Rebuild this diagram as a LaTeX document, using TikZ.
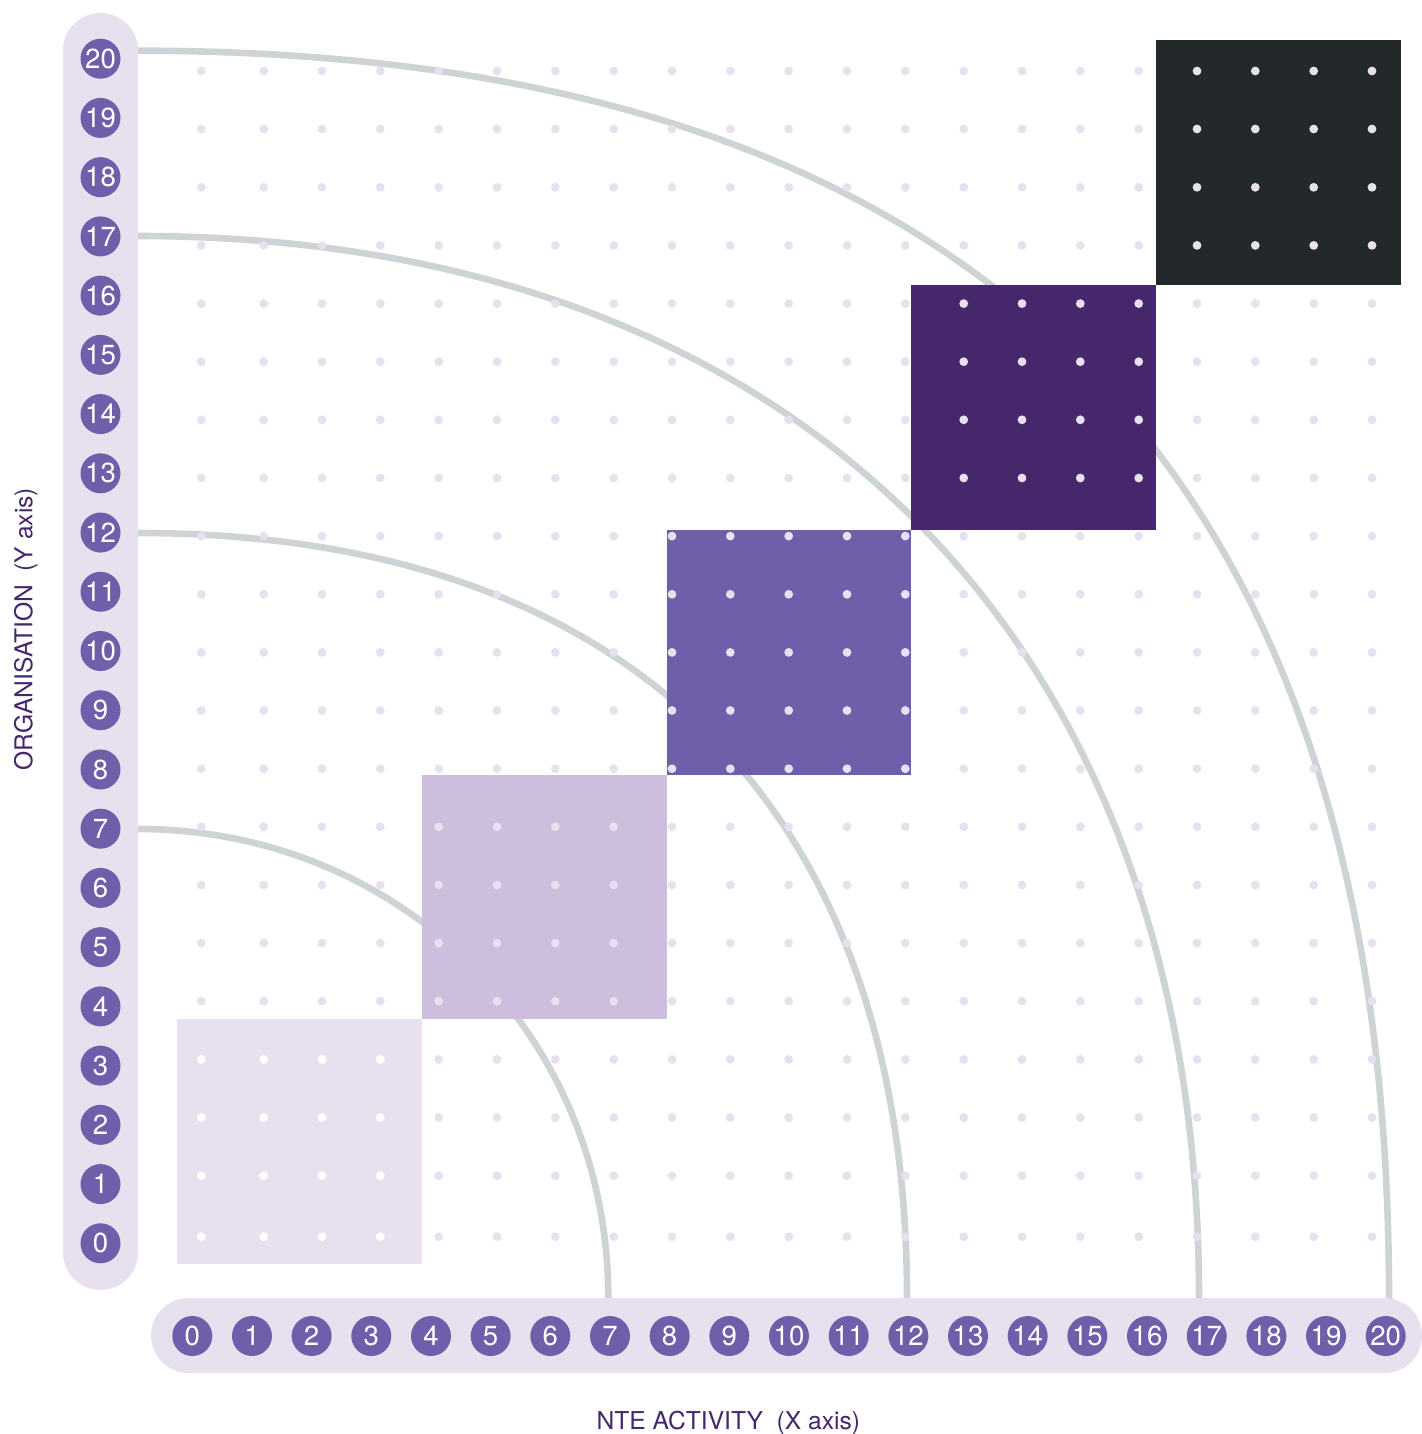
\documentclass[tikz,border=0pt]{standalone}
\usepackage{fontspec}
\setmainfont{TeX Gyre Heros}
\definecolor{barbg}{HTML}{E6E0EF}
\definecolor{numbg}{HTML}{6F5EA9}
\definecolor{sqA}{HTML}{E6E0EF}
\definecolor{sqB}{HTML}{CDBEDE}
\definecolor{sqC}{HTML}{6F5EA9}
\definecolor{sqD}{HTML}{46276C}
\definecolor{sqE}{HTML}{23282B}
\definecolor{arcgray}{HTML}{CED4D6}
\definecolor{dotcol}{HTML}{E6E0EF}
\definecolor{titlecol}{HTML}{46276C}
\begin{document}
\begin{tikzpicture}[x=0.5pt,y=-0.5pt,
  numdot/.style={circle,fill=numbg,minimum size=20pt,inner sep=0pt,text=white,
    font=\fontsize{13.8}{15}\selectfont},
  arcline/.style={draw=arcgray,line width=3.3pt},
  axistitle/.style={text=titlecol,font=\fontsize{12.3}{14}\selectfont,inner sep=0pt}]
\useasboundingbox (0,0) rectangle (1422,1434);
\fill[white] (0,0) rectangle (1422,1434);

% arcs (drawn first, hidden by squares)
\coordinate (a7s) at (120,829);   \coordinate (a7b) at (138,829);
\coordinate (a7e) at (608.3,1298); \coordinate (a7f) at (608.3,1315);
\coordinate (a12s) at (120,533);  \coordinate (a12b) at (138,533);
\coordinate (a12e) at (907,1298); \coordinate (a12f) at (907,1315);
\coordinate (a17s) at (120,236);  \coordinate (a17b) at (138,236);
\coordinate (a17e) at (1199,1298); \coordinate (a17f) at (1199,1315);
\coordinate (a20s) at (120,50.7); \coordinate (a20b) at (138,50.7);
\coordinate (a20e) at (1389,1298); \coordinate (a20f) at (1389.5,1315);
\draw[arcline] (a7s) -- (a7b) .. controls (401.4,829) and (608.3,1035.4) .. (a7e) -- (a7f);
\draw[arcline] (a12s) -- (a12b) .. controls (630.2,533) and (907,808.4) .. (a12e) -- (a12f);
\draw[arcline] (a17s) -- (a17b) .. controls (795.8,236) and (1199,639.6) .. (a17e) -- (a17f);
\draw[arcline] (a20s) -- (a20b) .. controls (976.2,50.7) and (1389,462.3) .. (a20e) -- (a20f);

% squares
\fill[sqA] (177,1019) rectangle (422,1264);
\fill[sqB] (422,775) rectangle (667,1019);
\fill[sqC] (667,530) rectangle (911,775);
\fill[sqD] (911,285) rectangle (1156,530);
\fill[sqE] (1156,40) rectangle (1401,285);

% dot grid
\foreach \x in {201.3,263.7,322,380.3,438.7,497,555.3,613.7,672,730.3,788.7,847,905.3,963.7,1022,1080.3,1138.7,1197,1255.3,1313.7,1372}
  \foreach \y in {71,129,187.3,245.4,303.6,361.7,419.8,478,536.1,594.3,652.4,710.5,768.7,826.8,885,943.1,1001.2,1059.4,1117.5,1175.7,1236.7}
    \fill[dotcol] (\x,\y) circle[radius=2.2pt];
\foreach \x in {201.3,263.7,322,380.3}
  \foreach \y in {1059.4,1117.5,1175.7,1236.7}
    \fill[white] (\x,\y) circle[radius=2.2pt];

% axis bars
\fill[barbg,rounded corners=18.75pt] (63,13) rectangle (138,1290);
\fill[barbg,rounded corners=18.75pt] (151,1298) rectangle (1422,1373);

% axis numbers
\foreach \i in {0,...,20}{
  \node[numdot] (y\i) at (100.5,{1243.3-59.23*\i}) {\i};
  \node[numdot] (x\i) at ({192.3+59.67*\i},1336) {\i};
}

% axis titles
\node[axistitle,rotate=90,anchor=base] (ytitle) at (32.5,629) {ORGANISATION\ \ (Y axis)};
\node[axistitle,anchor=base] (xtitle) at (728.3,1429.3) {NTE ACTIVITY\ \ (X axis)};
\end{tikzpicture}
\end{document}
